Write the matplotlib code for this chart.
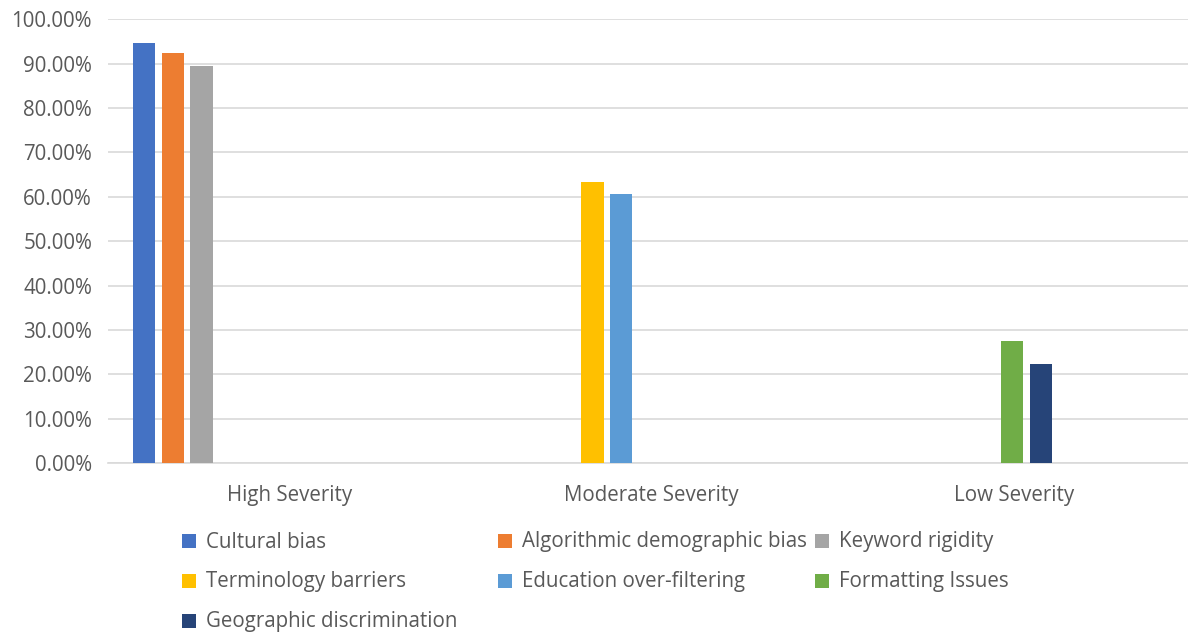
import matplotlib
matplotlib.use('Agg')
import matplotlib.pyplot as plt
import matplotlib.patches as patches
from matplotlib.ticker import PercentFormatter

# Datos
categorias = ['High Severity', 'Moderate Severity', 'Low Severity']
series = ['Cultural bias', 'Algorithmic demographic bias', 'Keyword rigidity',
          'Terminology barriers', 'Education over-filtering', 'Formatting Issues',
          'Geographic discrimination']
# categoria a la que pertenece cada serie y su valor (%)
serie_categoria = [0, 0, 0, 1, 1, 2, 2]
valores = [94.6, 92.5, 89.5, 63.4, 60.7, 27.6, 22.3]
colores = ['#4472C4', '#ED7D31', '#A5A5A5', '#FFC000', '#5B9BD5', '#70AD47', '#264478']

texto = '#595959'
tam = 14.8
plt.rcParams['font.family'] = ['Open Sans', 'DejaVu Sans']

fig = plt.figure(figsize=(11.88, 6.34), dpi=100)
ax = fig.add_axes([108 / 1188, 1 - 463.3 / 634, 1 - 108 / 1188, (463.3 - 19.3) / 634])

# Barras (posición de cada serie dentro del grupo, como en Excel)
ancho = 0.0616
paso = 0.0792
for i, (nombre, cat, val) in enumerate(zip(series, serie_categoria, valores)):
    x = cat - 0.40 + paso * i
    ax.bar(x, val, width=ancho, color=colores[i], zorder=3, label=nombre)

ax.set_xlim(-0.5, (1188 - 289) / 362.3)
ax.set_ylim(0, 100)
ax.set_yticks(range(0, 101, 10))
ax.yaxis.set_major_formatter(PercentFormatter(decimals=2))
ax.set_xticks(range(len(categorias)))
ax.set_xticklabels(categorias)
ax.tick_params(axis='both', length=0, labelsize=tam, colors=texto)
ax.tick_params(axis='y', pad=11.5)
ax.tick_params(axis='x', pad=15.5)
ax.grid(axis='y', color='#D9D9D9', linewidth=1.2, zorder=0)
for lado in ['top', 'right', 'left']:
    ax.spines[lado].set_visible(False)
ax.spines['bottom'].set_color('#D9D9D9')
ax.spines['bottom'].set_linewidth(1.2)

# Leyenda manual (3 columnas de ancho fijo, como en Excel)
col_x = [182, 498, 815]
fila_y = [541, 581, 621]
lado_cuadro = 14
for i, nombre in enumerate(series):
    fila, col = divmod(i, 3)
    x0 = col_x[col]
    y0 = fila_y[fila]
    fig.patches.append(patches.Rectangle(
        (x0 / 1188, 1 - (y0 + lado_cuadro / 2) / 634), lado_cuadro / 1188, lado_cuadro / 634,
        transform=fig.transFigure, facecolor=colores[i], edgecolor='none'))
    fig.text((x0 + 24) / 1188, 1 - (y0 + 1) / 634, nombre, fontsize=tam, color=texto,
             ha='left', va='center')

fig.savefig('out.png', dpi=100)
